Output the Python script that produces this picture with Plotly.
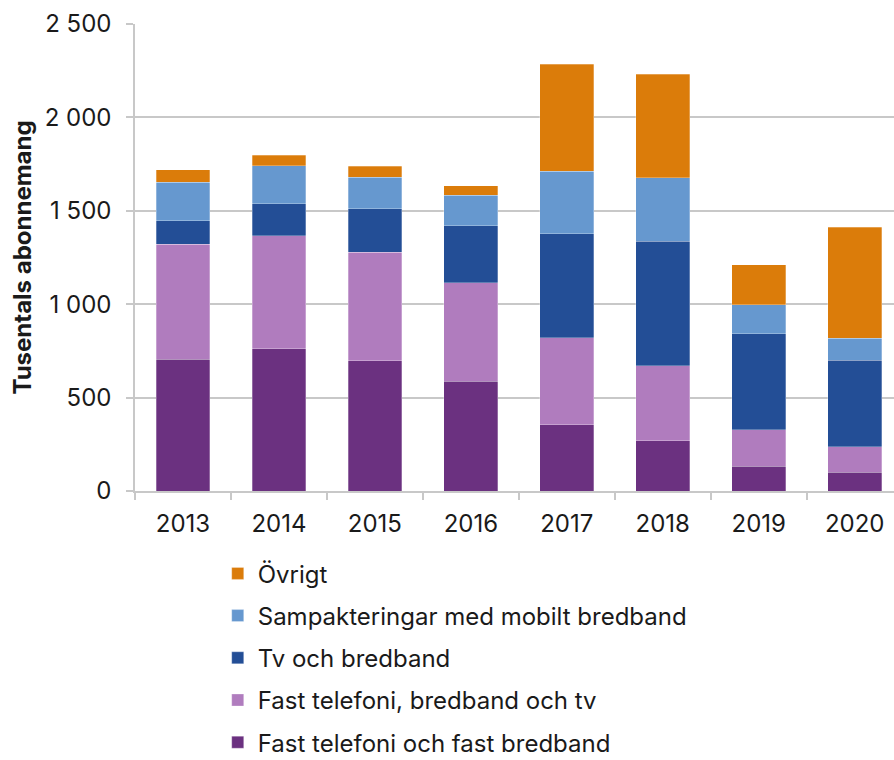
import plotly.graph_objects as go

# Abonnemang per typ av sampaketering, tusental
years = ["2013", "2014", "2015", "2016", "2017", "2018", "2019", "2020"]

fast_tel_bredband = [705, 762, 698, 587, 355, 270, 132, 100]
fast_tel_bredband_tv = [617, 605, 580, 529, 466, 401, 197, 136]
tv_bredband = [126, 171, 234, 305, 555, 666, 514, 464]
sampak_mobilt = [206, 202, 167, 162, 337, 339, 155, 117]
ovrigt = [66, 57, 59, 52, 571, 556, 214, 596]

y_ticks = [0, 500, 1000, 1500, 2000, 2500]
y_tick_labels = ["0", "500", "1\u00a0000", "1\u00a0500", "2\u00a0000", "2\u00a0500"]

series = [
    ("Fast telefoni och fast bredband", fast_tel_bredband, "#6B3180"),
    ("Fast telefoni, bredband och tv", fast_tel_bredband_tv, "#B07CBE"),
    ("Tv och bredband", tv_bredband, "#234E96"),
    ("Sampakteringar med mobilt bredband", sampak_mobilt, "#6698CF"),
    ("Övrigt", ovrigt, "#DB7C0A"),
]

FONT = "Inter"
TEXT = "#1a1a1a"
GRID = "#C8C8C8"

fig = go.Figure()
for i, (name, vals, color) in enumerate(series):
    fig.add_trace(go.Bar(
        x=years,
        y=vals,
        name=name,
        legendgroup=name,
        legendrank=len(series) - i,  # Övrigt on top, as in the source
        marker=dict(color=color, line=dict(color="rgba(255,255,255,0.35)", width=0.8)),
        width=0.56,
    ))

fig.update_layout(
    barmode="stack",
    width=894,
    height=760,
    margin=dict(l=135, r=0, t=24, b=269),
    plot_bgcolor="white",
    paper_bgcolor="white",
    font=dict(family=FONT, size=24, color=TEXT),
    # container-referenced legend so it does not push the bottom margin
    legend=dict(
        orientation="v",
        traceorder="grouped",
        tracegroupgap=8,
        x=0.109,
        xanchor="left",
        yref="container",
        y=0.2746,
        yanchor="top",
        font=dict(family=FONT, size=24, color=TEXT),
        itemwidth=30,
    ),
)

fig.update_xaxes(
    range=[-0.5, 7.41],
    automargin=False,
    showgrid=False,
    showline=True,
    linecolor=GRID,
    linewidth=1.5,
    ticks="outside",
    tickson="boundaries",
    ticklen=7,
    tickcolor=GRID,
    tickwidth=1.5,
    ticklabelstandoff=10,
    tickfont=dict(size=24),
)

fig.update_yaxes(
    range=[0, 2500],
    automargin=False,
    tickvals=y_ticks,
    ticktext=y_tick_labels,
    showgrid=True,
    gridcolor=GRID,
    gridwidth=1.5,
    showline=True,
    linecolor=GRID,
    linewidth=1.5,
    ticks="outside",
    ticklen=7,
    tickcolor=GRID,
    tickwidth=1.5,
    ticklabelstandoff=10,
    tickfont=dict(size=24),
    zeroline=False,
    title=dict(
        text="<b>Tusentals abonnemang</b>",
        font=dict(size=24, color=TEXT),
        standoff=6,
    ),
)

# the page body has an 8px default margin; drop it so the 894x760 figure fits the window
fig.write_html(
    "out.html",
    config={"displayModeBar": False},
    post_script="document.body.style.margin='0';document.body.style.overflow='hidden';",
)
